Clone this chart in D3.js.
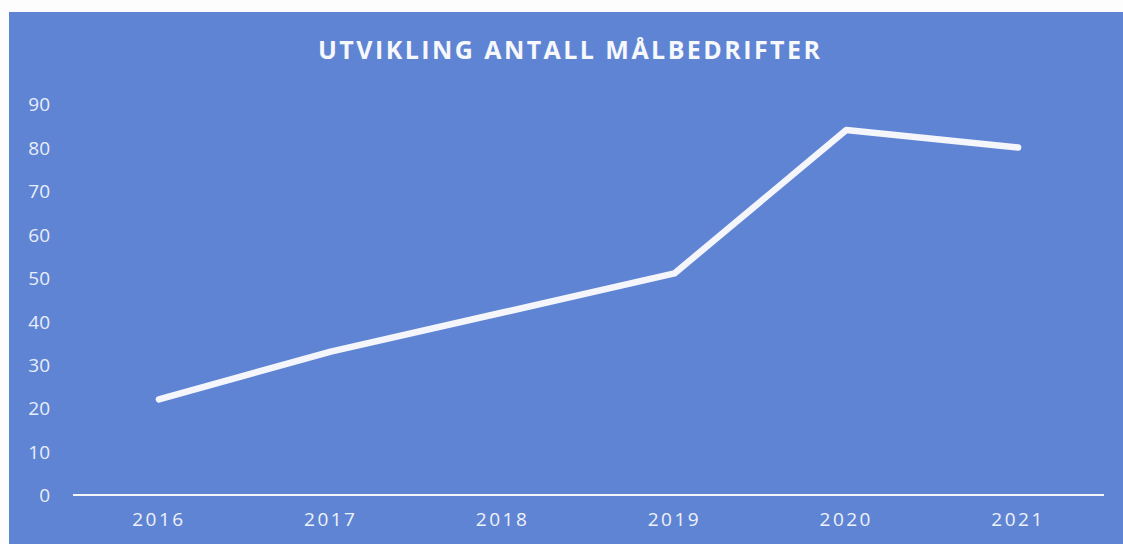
<!DOCTYPE html>
<html><head><meta charset="utf-8">
<script src="https://cdn.jsdelivr.net/npm/d3@7"></script>
<style>
html,body{margin:0;padding:0;background:#fdfdfd;}
svg{display:block;}
</style></head>
<body>
<svg id="c" width="1123" height="544"></svg>
<script>
const title = "UTVIKLING ANTALL MÅLBEDRIFTER";
const years = ["2016","2017","2018","2019","2020","2021"];
const values = [22, 33, 42, 51, 84, 80];
const yTicks = [0,10,20,30,40,50,60,70,80,90];

const svg = d3.select("#c");
const W = 1123, H = 544;
svg.append("rect").attr("x",0).attr("y",0).attr("width",W).attr("height",H).attr("fill","#fdfdfd");
svg.append("rect").attr("x",9).attr("y",12).attr("width",W-9).attr("height",H-12).attr("fill","#5f84d3");

const x = d3.scaleBand().domain(years).range([73,1104]);
const y = d3.scaleLinear().domain([0,90]).range([495,104]);

// title
svg.append("text").attr("x",569).attr("y",59).attr("text-anchor","middle")
  .attr("font-family","'Open Sans', sans-serif").attr("font-weight","bold")
  .attr("font-size",25).attr("fill","#f6f8fc")
  .attr("textLength",502).attr("lengthAdjust","spacing")
  .text(title);

// y axis labels
const yAxis = d3.axisLeft(y).tickValues(yTicks).tickSize(0).tickPadding(0);
const gy = svg.append("g").attr("transform","translate(50,0)").call(yAxis);
gy.select(".domain").remove();
gy.selectAll("text").attr("font-family","'Open Sans', sans-serif").attr("font-size",19)
  .attr("fill","#e8eef9").attr("dy","0.36em");

// x axis
const xAxis = d3.axisBottom(x).tickSize(0).tickPadding(0);
const gx = svg.append("g").attr("transform","translate(0,495)").call(xAxis);
gx.select(".domain").attr("stroke","#f4f6fb").attr("stroke-width",2).attr("d","M73,0H1104");
gx.selectAll("text").attr("font-family","'Open Sans', sans-serif").attr("font-size",19)
  .attr("fill","#eef2fa").attr("letter-spacing","2.5px").attr("dy","1.65em");

// line
const line = d3.line().x((d,i)=>x(years[i])+x.bandwidth()/2).y(d=>y(d));
svg.append("path").datum(values).attr("d",line).attr("fill","none")
  .attr("stroke","#f4f6fb").attr("stroke-width",6.5).attr("stroke-linejoin","round").attr("stroke-linecap","round");
</script>
</body></html>
